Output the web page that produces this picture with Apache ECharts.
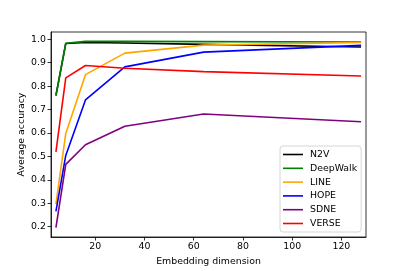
<!DOCTYPE html>
<html>
<head>
<meta charset="utf-8">
<script src="https://cdn.jsdelivr.net/npm/echarts@6/dist/echarts.min.js"></script>
<style>
html,body{margin:0;padding:0;background:#fff;}
#chart{width:407px;height:271px;}
</style>
</head>
<body>
<div id="chart"></div>
<script>
const dims = [4, 8, 16, 32, 64, 128];
const n2v = [0.760, 0.982, 0.986, 0.984, 0.978, 0.967];
const deepwalk = [0.759, 0.983, 0.991, 0.991, 0.990, 0.988];
const line = [0.296, 0.598, 0.849, 0.941, 0.975, 0.986];
const hope = [0.265, 0.504, 0.741, 0.882, 0.945, 0.974];
const sdne = [0.196, 0.466, 0.550, 0.629, 0.681, 0.648];
const verse = [0.519, 0.835, 0.888, 0.876, 0.862, 0.843];
const xTicks = [20, 40, 60, 80, 100, 120];
const yTicks = [0.2, 0.3, 0.4, 0.5, 0.6, 0.7, 0.8, 0.9, 1.0];

const seriesDefs = [
  ['N2V', n2v, '#000000'],
  ['DeepWalk', deepwalk, '#008000'],
  ['LINE', line, '#FFA500'],
  ['HOPE', hope, '#0000FF'],
  ['SDNE', sdne, '#800080'],
  ['VERSE', verse, '#FF0000']
];

const font = 'DejaVu Sans';
const fs = 9.4;

const chart = echarts.init(document.getElementById('chart'), null, {renderer: 'canvas'});
chart.setOption({
  animation: false,
  backgroundColor: '#ffffff',
  grid: {left: 51, top: 32, right: 41, bottom: 34, show: true, borderColor: '#000', borderWidth: 0.8, backgroundColor: 'transparent'},
  legend: {
    orient: 'vertical',
    left: 280, top: 146,
    itemWidth: 20, itemHeight: 10, itemGap: 3.8,
    padding: [3.5, 4, 3.5, 3],
    backgroundColor: '#fff',
    borderColor: '#cccccc', borderWidth: 0.8, borderRadius: 3,
    textStyle: {fontFamily: font, fontSize: fs, color: '#000', lineHeight: 10, padding: [0, 0, 0, 2]},
    data: seriesDefs.map(d => ({name: d[0], icon: 'path://M0,0L20,0L20,1.6L0,1.6Z'}))
  },
  xAxis: {
    type: 'value', min: 2, max: 130,
    name: 'Embedding dimension', nameLocation: 'middle', nameGap: 20, nameMoveOverlap: false,
    nameTextStyle: {fontFamily: font, fontSize: fs, color: '#000'},
    axisLine: {show: true, onZero: false, lineStyle: {color: '#000', width: 0.8}},
    axisTick: {show: true, inside: false, length: 3.5, customValues: xTicks, lineStyle: {color: '#000', width: 0.8}},
    axisLabel: {customValues: xTicks, fontFamily: font, fontSize: fs, color: '#000', margin: 5},
    splitLine: {show: false}
  },
  yAxis: {
    type: 'value', min: 0.156, max: 1.031,
    name: 'Average accuracy', nameLocation: 'middle', nameGap: 25, nameRotate: 90, nameMoveOverlap: false,
    nameTextStyle: {fontFamily: font, fontSize: fs, color: '#000'},
    axisLine: {show: true, onZero: false, lineStyle: {color: '#000', width: 0.8}},
    axisTick: {show: true, inside: false, length: 3.5, customValues: yTicks, lineStyle: {color: '#000', width: 0.8}},
    axisLabel: {customValues: yTicks, fontFamily: font, fontSize: fs, color: '#000', margin: 5,
      formatter: v => v.toFixed(1)},
    splitLine: {show: false}
  },
  series: seriesDefs.map(d => ({
    name: d[0], type: 'line', symbol: 'none', showSymbol: false,
    data: dims.map((x, i) => [x, d[1][i]]),
    lineStyle: {color: d[2], width: 1.6},
    itemStyle: {color: d[2]},
    emphasis: {disabled: true}
  }))
});
</script>
</body>
</html>
